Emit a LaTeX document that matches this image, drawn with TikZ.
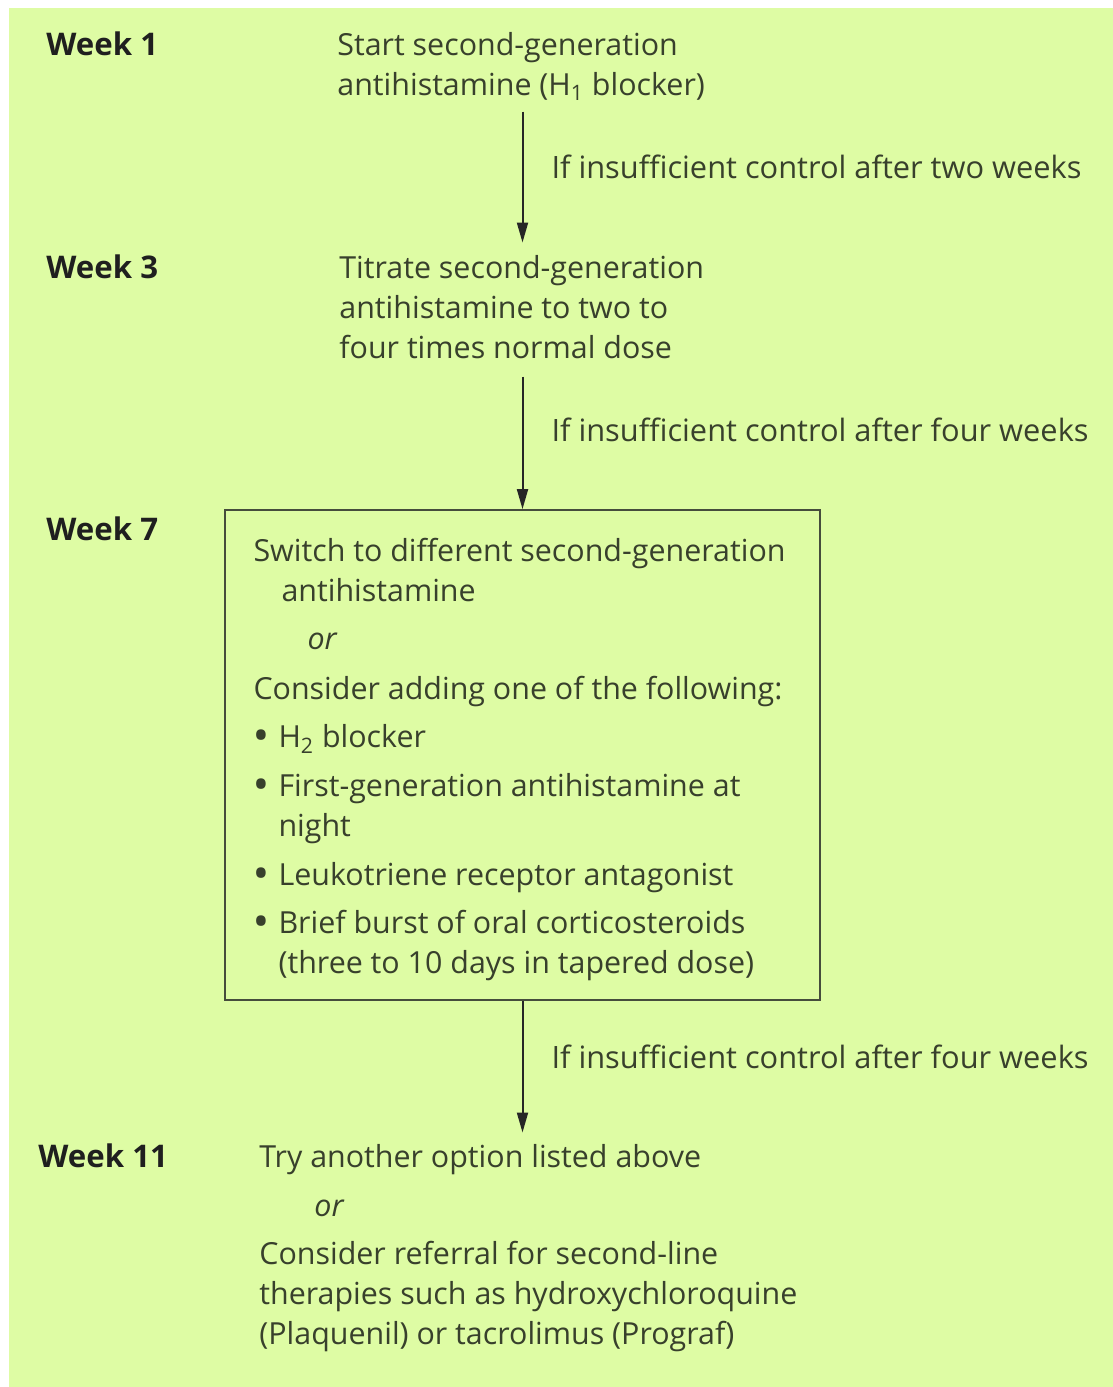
\documentclass[tikz,border=0pt]{standalone}
\usepackage{fontspec}
\setmainfont{Open Sans}
\usetikzlibrary{positioning,arrows.meta}

\definecolor{chartbg}{RGB}{222,252,164}
\definecolor{chartink}{RGB}{56,64,44}
\definecolor{chartline}{RGB}{70,76,60}

% one bullet item, and the indent for its next line
\newcommand{\itm}[1]{\makebox[12.5pt][l]{\hspace{0.5pt}{\bfseries\fontsize{17}{20}\selectfont\textbullet}}#1}
\newcommand{\cont}{\hspace*{12.5pt}}

\begin{document}
\begin{tikzpicture}[x=0.5pt,y=-0.5pt,
    week/.style={anchor=base west,inner sep=0,text=black!88,
        font=\fontsize{15.6}{20}\selectfont\bfseries},
    stage/.style={anchor=base west,inner sep=0,align=left,text=chartink,
        font=\fontsize{15.2}{20}\selectfont},
    choicebox/.style={draw=chartline,line width=0.9pt,align=left,text=chartink,
        minimum width=297.5pt,minimum height=245pt,
        inner sep=0,font=\fontsize{15.2}{20}\selectfont},
    cond/.style={anchor=west,xshift=14pt,yshift=5.5pt,inner sep=0,text=chartink,
        font=\fontsize{15.4}{20}\selectfont},
    flow/.style={-{Triangle[length=10pt,width=5.5pt]},line width=1pt,draw=black!85}]

    \useasboundingbox (0,0) rectangle (1113,1387);
    \fill[chartbg] (9,8) rectangle (1113,1387);

    % week labels
    \node[week] (w1) at (46,55) {Week 1};
    \node[week] (w3) at (46,278) {Week 3};
    \node[week] (w7) at (46,540) {Week 7};
    \node[week] (w11) at (38,1167) {Week 11};

    % steps (placed at the baseline of their last line)
    \node[stage] (start) at (337,95)
        {Start second-generation\\antihistamine (H\textsubscript{1} blocker)};
    \node[stage] (titrate) at (339,358)
        {Titrate second-generation\\antihistamine to two to\\four times normal dose};
    \node[choicebox] (switch) at (522.5,755)
        {\rule{0pt}{16.5pt}Switch to different second-generation\hspace*{3pt}\\
         \hspace*{14pt}antihistamine\\[4pt]
         \hspace*{27pt}\textit{or}\\[5pt]
         Consider adding one of the following:\\[4pt]
         \itm{H\textsubscript{2} blocker}\\[4.5pt]
         \itm{First-generation antihistamine at}\\
         \cont night\\[4.5pt]
         \itm{Leukotriene receptor antagonist}\\[4pt]
         \itm{Brief burst of oral corticosteroids}\\
         \cont(three to 10 days in tapered dose)};
    \node[stage] (referral) at (259,1344)
        {Try another option listed above\\[4.5pt]
         \hspace*{27.5pt}\textit{or}\\[4pt]
         Consider referral for second-line\\
         therapies such as hydroxychloroquine\\
         (Plaquenil) or tacrolimus (Prograf)};

    % arrows down the middle
    \draw[flow,shorten <=5.5pt,shorten >=6pt] (start.south -| switch.north) -- (titrate.north -| switch.north)
        node[cond,midway] {If insufficient control after two weeks};
    \draw[flow,shorten <=9pt] (titrate.south -| switch.north) -- (switch.north)
        node[cond,midway,yshift=-3.5pt] {If insufficient control after four weeks};
    \draw[flow,shorten >=5.5pt] (switch.south) -- (referral.north -| switch.south)
        node[cond,midway,yshift=2pt] {If insufficient control after four weeks};
\end{tikzpicture}
\end{document}
